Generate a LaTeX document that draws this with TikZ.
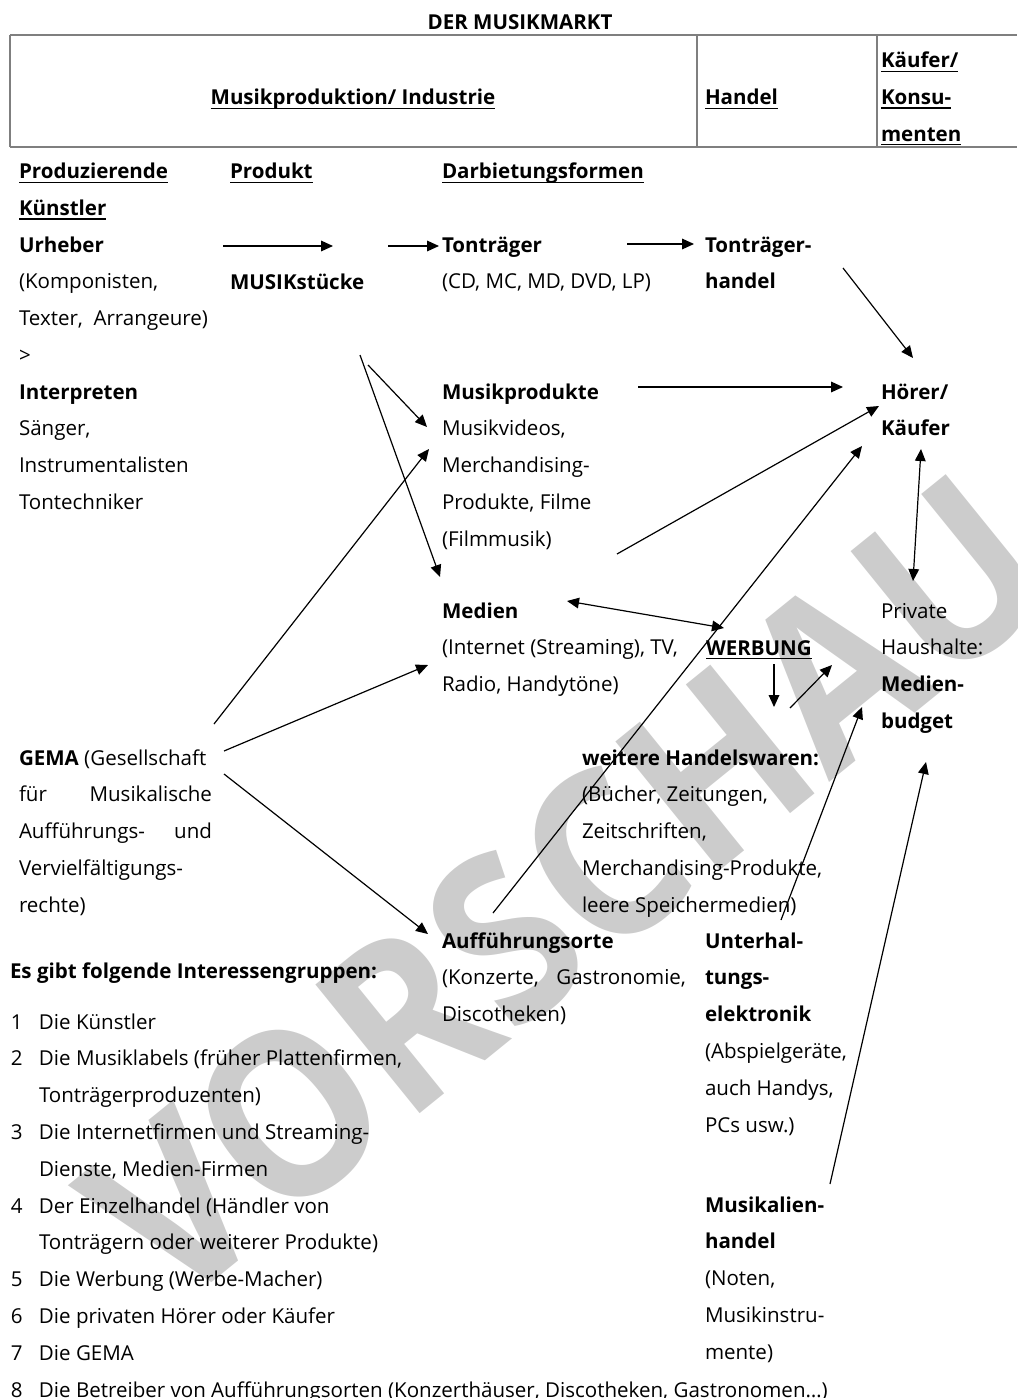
\documentclass[tikz,border=0pt]{standalone}
\usepackage{fontspec}
\setmainfont{Open Sans}
\usetikzlibrary{arrows.meta}
\definecolor{ccccccc}{RGB}{204,204,204}
\definecolor{c7f7f7f}{RGB}{127,127,127}
\newcommand{\undl}[1]{\setbox0=\hbox{#1}\rlap{\rule[-2.8pt]{\wd0}{0.8pt}}\box0}

\begin{document}
\begin{tikzpicture}[y=-0.75pt, x=0.75pt, inner sep=0pt, outer sep=0pt,
  every node/.append style={font=\fontsize{15.4pt}{27.6pt}\selectfont, anchor=base west, align=left},
  arr/.style={draw=black, line width=0.9pt, -{Triangle[length=9pt,width=8pt]}},
  dbl/.style={draw=black, line width=0.9pt, {Triangle[length=9pt,width=8pt]}-{Triangle[length=9pt,width=8pt]}},
  rule/.style={draw=c7f7f7f, line width=1.4pt}]
  \useasboundingbox (0,0) rectangle (1017,1398);

  % watermark
  \node[text=ccccccc, anchor=center, rotate=39, xscale=0.9, font=\fontsize{174pt}{174pt}\selectfont\bfseries] (wmark) at (566,889) {VORSCHAU};

  % header table (multi-line nodes sit on the baseline of their last line)
  \node[anchor=base] (title) at (520,30) {\textbf{DER MUSIKMARKT}};
  \path[rule] (10,35) -- (1017,35);
  \path[rule] (10,147) -- (1017,147);
  \path[rule] (10,35) -- (10,147);
  \path[rule] (697,35) -- (697,147);
  \path[rule] (877,35) -- (877,147);
  \node[anchor=base] (hdIndustrie) at (353,105) {\undl{\textbf{Musikproduktion/ Industrie}}};
  \node (hdHandel) at (705,105) {\undl{\textbf{Handel}}};
  \node (hdKaeufer) at (881,141.6) {\undl{\textbf{Käufer/}}\\\undl{\textbf{Konsu-}}\\\undl{\textbf{menten}}};

  % column heads
  \node (hdKuenstler) at (19,215.8) {\undl{\textbf{Produzierende}}\\\undl{\textbf{Künstler}}};
  \node (hdProdukt) at (230,179) {\undl{\textbf{Produkt}}};
  \node (hdDarbiet) at (442,179) {\undl{\textbf{Darbietungsformen}}};

  % left column
  \node (urheber) at (19,362.4) {\textbf{Urheber}\\(Komponisten,\\Texter,\ \ Arrangeure)\\>};
  \node (interpreten) at (19,509.4) {\textbf{Interpreten}\\Sänger,\\Instrumentalisten\\Tontechniker};
  \node (musikstuecke) at (230,289) {\textbf{MUSIKstücke}};
  \node (gema) at (19,912.2) {\textbf{GEMA} (Gesellschaft\\\makebox[144.75pt][s]{für Musikalische}\\\makebox[144.75pt][s]{Aufführungs- und}\\Vervielfältigungs-\\rechte)};

  % middle column
  \node (tontraeger) at (442,288.8) {\textbf{Tonträger}\\(CD, MC, MD, DVD, LP)};
  \node (musikprod) at (442,546.2) {\textbf{Musikprodukte}\\Musikvideos,\\Merchandising-\\Produkte, Filme\\(Filmmusik)};
  \node (medien) at (442,691.6) {\textbf{Medien}\\(Internet (Streaming), TV,\\Radio, Handytöne)};
  \node (auffuehrung) at (442,1021.6) {\textbf{Aufführungsorte}\\\makebox[183pt][s]{(Konzerte, Gastronomie,}\\Discotheken)};
  \node (weitere) at (582,912.2) {\textbf{weitere Handelswaren:}\\(Bücher, Zeitungen,\\Zeitschriften,\\Merchandising-Produkte,\\leere Speichermedien)};

  % handel column
  \node (ttHandel) at (705,288.8) {\textbf{Tonträger-}\\\textbf{handel}};
  \node (werbung) at (706,655) {\undl{\textbf{WERBUNG}}};
  \node (unterhaltung) at (705,1132) {\textbf{Unterhal-}\\\textbf{tungs-}\\\textbf{elektronik}\\(Abspielgeräte,\\auch Handys,\\PCs usw.)};
  \node (musikalien) at (705,1359.2) {\textbf{Musikalien-}\\\textbf{handel}\\(Noten,\\Musikinstru-\\mente)};

  % consumers
  \node (hoerer) at (881,435.8) {\textbf{Hörer/}\\\textbf{Käufer}};
  \node (haushalte) at (881,728.4) {Private\\Haushalte:\\\textbf{Medien-}\\\textbf{budget}};

  % interest groups
  \node (hdGruppen) at (10,978) {\textbf{Es gibt folgende Interessengruppen:}};
  \node (gruppen) at (11,1029) {\begin{tabular}[t]{@{}p{21pt}@{}l@{}}
    1 & Die Künstler\\
    2 & Die Musiklabels (früher Plattenfirmen,\\
      & Tonträgerproduzenten)\\
    3 & Die Internetfirmen und Streaming-\\
      & Dienste, Medien-Firmen\\
    4 & Der Einzelhandel (Händler von\\
      & Tonträgern oder weiterer Produkte)\\
    5 & Die Werbung (Werbe-Macher)\\
    6 & Die privaten Hörer oder Käufer\\
    7 & Die GEMA\\
    8 & Die Betreiber von Aufführungsorten (Konzerthäuser, Discotheken, Gastronomen…)
  \end{tabular}};

  % arrow ends
  \coordinate (urh1) at (223,246);
  \coordinate (urh2) at (333,246);
  \coordinate (tt1) at (388,246);
  \coordinate (tt2) at (439,246);
  \coordinate (tth1) at (627,244);
  \coordinate (tth2) at (694,244);
  \coordinate (hd1) at (843,268);
  \coordinate (hd2) at (913,358);
  \coordinate (mp1) at (638,387);
  \coordinate (mp2) at (843,387);
  \coordinate (ms1) at (360,355);
  \coordinate (ms2) at (440,577);
  \coordinate (ms3) at (368,365);
  \coordinate (ms4) at (427,427);
  \coordinate (gm1) at (214,724);
  \coordinate (gm2) at (429,449);
  \coordinate (gm3) at (224,751);
  \coordinate (gm4) at (428,665);
  \coordinate (gm5) at (224,774);
  \coordinate (gm6) at (428,934);
  \coordinate (fm1) at (617,554);
  \coordinate (fm2) at (879,406);
  \coordinate (au1) at (493,913);
  \coordinate (au2) at (862,446);
  \coordinate (md1) at (567,601);
  \coordinate (md2) at (724,628);
  \coordinate (hk1) at (921,449);
  \coordinate (hk2) at (913,581);
  \coordinate (wb1) at (774,664);
  \coordinate (wb2) at (774,707);
  \coordinate (wb3) at (790,708);
  \coordinate (wb4) at (832,665);
  \coordinate (ue1) at (781,920);
  \coordinate (ue2) at (862,707);
  \coordinate (mu1) at (830,1184);
  \coordinate (mu2) at (926,762);

  % connectors
  \path[arr] (urh1) -- (urh2);
  \path[arr] (tt1) -- (tt2);
  \path[arr] (tth1) -- (tth2);
  \path[arr] (hd1) -- (hd2);
  \path[arr] (mp1) -- (mp2);
  \path[arr] (ms1) -- (ms2);
  \path[arr] (ms3) -- (ms4);
  \path[arr] (gm1) -- (gm2);
  \path[arr] (gm3) -- (gm4);
  \path[arr] (gm5) -- (gm6);
  \path[arr] (fm1) -- (fm2);
  \path[arr] (au1) -- (au2);
  \path[dbl] (md1) -- (md2);
  \path[dbl] (hk1) -- (hk2);
  \path[arr] (wb1) -- (wb2);
  \path[arr] (wb3) -- (wb4);
  \path[arr] (ue1) -- (ue2);
  \path[arr] (mu1) -- (mu2);

\end{tikzpicture}
\end{document}
